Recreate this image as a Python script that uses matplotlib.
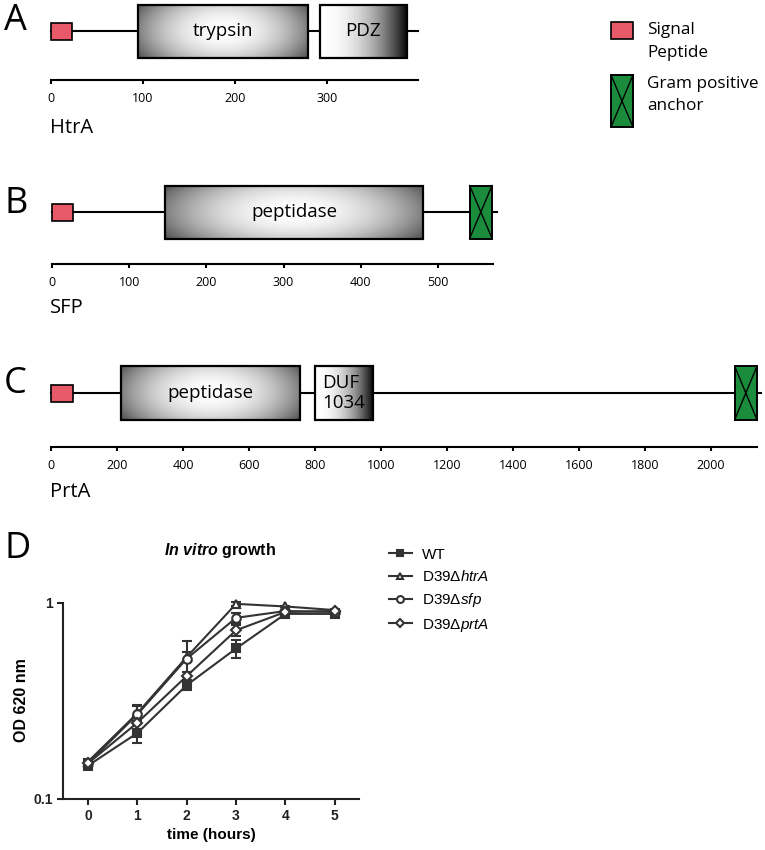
import numpy as np
import matplotlib
matplotlib.use('Agg')
import matplotlib.pyplot as plt
from matplotlib.patches import Rectangle
from matplotlib.ticker import NullLocator


# ===== Data =====
# domain positions in amino acids
htra_length = 399
htra_signal = (0, 23)
htra_domains = [('trypsin', 95, 279, 'radial'), ('PDZ', 292, 387, 'linear')]
htra_ticks = [0, 100, 200, 300]

sfp_length = 576
sfp_signal = (0, 27)
sfp_domains = [('peptidase', 147, 481, 'radial')]
sfp_anchor = (541, 570)
sfp_ticks = [0, 100, 200, 300, 400, 500]

prta_length = 2150
prta_signal = (0, 66)
prta_domains = [('peptidase', 212, 755, 'radial'), ('DUF\n1034', 800, 976, 'linear')]
prta_anchor = (2072, 2139)
prta_ticks = [0, 200, 400, 600, 800, 1000, 1200, 1400, 1600, 1800, 2000]

# in vitro growth, OD 620 nm
time = [0, 1, 2, 3, 4, 5]
wt = [0.148, 0.217, 0.381, 0.586, 0.88, 0.88]
wt_err = [0.006, 0.024, 0.02, 0.06, 0.015, 0.015]
htra = [0.155, 0.274, 0.53, 0.99, 0.96, 0.92]
htra_err = [0.005, 0.025, 0.03, 0.02, 0.01, 0.01]
sfp = [0.152, 0.27, 0.52, 0.84, 0.91, 0.90]
sfp_err = [0.005, 0.03, 0.12, 0.05, 0.01, 0.01]
prta = [0.152, 0.245, 0.424, 0.726, 0.90, 0.91]
prta_err = [0.005, 0.02, 0.02, 0.05, 0.01, 0.01]


plt.rcParams['font.family'] = 'Open Sans'
plt.rcParams['mathtext.fontset'] = 'custom'
plt.rcParams['mathtext.rm'] = 'Liberation Sans'
plt.rcParams['mathtext.it'] = 'Liberation Sans:italic'
plt.rcParams['mathtext.bf'] = 'Liberation Sans:bold'
plt.rcParams['mathtext.bfit'] = 'Liberation Sans:bold:italic'

W, H = 765, 850
RED = '#e95a68'
GREEN = '#1b8c3c'
TXT = 13.5

fig = plt.figure(figsize=(W / 100, H / 100), dpi=100)


def px_axes(x0, y0, x1, y1):
    return fig.add_axes([x0 / W, 1 - y1 / H, (x1 - x0) / W, (y1 - y0) / H])


def gradient(kind):
    if kind == 'radial':
        u = np.linspace(-1, 1, 300)
        v = np.linspace(-1, 1, 80)
        U, V = np.meshgrid(u, v)
        r = np.sqrt(U ** 2 + (0.6 * V) ** 2)
        return np.clip(1 - 0.5 * r ** 2, 0.3, 1)
    u = np.linspace(0, 1, 300)
    g = np.clip(1 - u ** 2.2, 0.05, 1)
    return np.tile(g, (80, 1))


def draw_protein(x0, scale, axis_y, mid_y, length, axis_end, signal, domains, anchor, ticks):
    top = mid_y - 30
    ax = px_axes(x0, top, x0 + axis_end * scale, axis_y)
    yc = axis_y - mid_y

    # backbone
    ax.plot([0, length], [yc, yc], color='black', lw=1.5, zorder=1, clip_on=False)

    # signal peptide
    ax.add_patch(Rectangle((signal[0], yc - 8.5), signal[1] - signal[0], 17,
                           facecolor=RED, edgecolor='black', lw=1.2, zorder=3, clip_on=False))

    for label, a, b, kind in domains:
        ax.imshow(gradient(kind), extent=(a, b, yc - 26.5, yc + 26.5), cmap='gray',
                  vmin=0, vmax=1, aspect='auto', interpolation='bilinear', zorder=2, clip_on=False)
        ax.add_patch(Rectangle((a, yc - 26.5), b - a, 53, facecolor='none',
                               edgecolor='black', lw=1.6, zorder=3, clip_on=False))
        ax.text((a + b) / 2, yc, label, ha='center', va='center', multialignment='left',
                fontsize=TXT, linespacing=1.2, zorder=4)

    if anchor is not None:
        a, b = anchor
        ax.add_patch(Rectangle((a, yc - 26.5), b - a, 53, facecolor=GREEN,
                               edgecolor='black', lw=1.4, zorder=3, clip_on=False))
        ax.plot([a, b], [yc - 26.5, yc + 26.5], color='black', lw=1, zorder=4, clip_on=False)
        ax.plot([a, b], [yc + 26.5, yc - 26.5], color='black', lw=1, zorder=4, clip_on=False)

    ax.set_xlim(0, axis_end)
    ax.set_ylim(0, axis_y - top)
    ax.patch.set_visible(False)
    for s in ['top', 'left', 'right']:
        ax.spines[s].set_visible(False)
    ax.spines['bottom'].set_linewidth(1.5)
    ax.set_yticks([])
    ax.set_xticks(ticks)
    ax.tick_params(axis='x', direction='out', length=3, width=1.5, pad=5.5, labelsize=9)
    return ax


# ===== Panel A-C: domain diagrams =====
draw_protein(51, 0.92, 80, 31, htra_length, 399, htra_signal, htra_domains, None, htra_ticks)
draw_protein(52, 0.772, 264, 212, sfp_length, 571, sfp_signal, sfp_domains, sfp_anchor, sfp_ticks)
draw_protein(51, 0.33, 447, 393, prta_length, 2139, prta_signal, prta_domains, prta_anchor, prta_ticks)

fig.text(50 / W, 1 - 133 / H, 'HtrA', fontsize=14.5, va='baseline')
fig.text(50 / W, 1 - 313 / H, 'SFP', fontsize=14.5, va='baseline')
fig.text(50 / W, 1 - 497 / H, 'PrtA', fontsize=14.5, va='baseline')

for letter, yb in [('A', 30), ('B', 213), ('C', 393), ('D', 558)]:
    fig.text(4 / W, 1 - yb / H, letter, fontsize=26, va='baseline')

# legend of domain symbols (top right)
bg = fig.add_axes([0, 0, 1, 1], zorder=-1)
bg.set_xlim(0, W)
bg.set_ylim(H, 0)
bg.axis('off')
bg.add_patch(Rectangle((611, 22), 22, 17, facecolor=RED, edgecolor='black', lw=1.2))
bg.add_patch(Rectangle((611, 75), 22, 52, facecolor=GREEN, edgecolor='black', lw=1.4))
bg.plot([611, 633], [75, 127], color='black', lw=1)
bg.plot([611, 633], [127, 75], color='black', lw=1)
for txt, yb in [('Signal', 34), ('Peptide', 57), ('Gram positive', 88), ('anchor', 110)]:
    fig.text(647 / W, 1 - yb / H, txt, fontsize=12.3, va='baseline')

# ===== Panel D: growth curve =====
ax = px_axes(63, 603, 359, 799)
line_c = '#333333'
series = [
    (wt, wt_err, 's', line_c, 'WT'),
    (htra, htra_err, '^', 'white', 'D39Δ$\\mathit{htrA}$'),
    (sfp, sfp_err, 'o', 'white', 'D39Δ$\\mathit{sfp}$'),
    (prta, prta_err, 'D', 'white', 'D39Δ$\\mathit{prtA}$'),
]
handles = []
for vals, err, mk, fc, lab in series:
    ms = 5.5 if mk == 'D' else 6.2
    c = ax.errorbar(time, vals, yerr=err, marker=mk, ms=ms, mfc=fc, mec=line_c, mew=1.5,
                    color=line_c, lw=1.5, capsize=3.5, elinewidth=1.5, capthick=1.5,
                    label=lab)
    for art in list(c.lines[1]) + list(c.lines[2]) + [c.lines[0]]:
        art.set_clip_on(False)
    handles.append(c[0])

ax.set_yscale('log')
ax.set_ylim(0.1, 1)
ax.set_xlim(-0.506, 5.49)
ax.set_yticks([0.1, 1])
ax.set_yticklabels(['0.1', '1'])
ax.yaxis.set_minor_locator(NullLocator())
ax.set_xticks(time)
for s in ['top', 'right']:
    ax.spines[s].set_visible(False)
for s in ['left', 'bottom']:
    ax.spines[s].set_linewidth(1.5)
    ax.spines[s].set_color('#222222')
ax.tick_params(direction='out', length=4, width=1.5, pad=3, labelsize=10, colors='#222222')
for lbl in ax.get_xticklabels() + ax.get_yticklabels():
    lbl.set_fontfamily('Liberation Sans')
    lbl.set_fontweight('bold')

fig.text(220 / W, 1 - 555 / H, '$\\mathbfit{In\\ vitro}$ growth', fontsize=11.5,
         fontweight='bold', family='Liberation Sans', ha='center', va='baseline')
fig.text(211 / W, 1 - 839 / H, 'time (hours)', fontsize=11, fontweight='bold',
         family='Liberation Sans', ha='center', va='baseline')
fig.text(22 / W, 1 - 700 / H, 'OD 620 nm', fontsize=11.5, fontweight='bold',
         family='Liberation Sans', ha='center', va='center', rotation=90)

fig.legend(handles, [s[4] for s in series], loc='upper left',
           bbox_to_anchor=(381 / W, 1 - 540 / H), frameon=False, borderpad=0,
           handlelength=1.5, handletextpad=0.7, labelspacing=0.48, markerscale=0.8,
           prop={'family': 'Liberation Sans', 'size': 11})

fig.savefig('out.png', dpi=100)
